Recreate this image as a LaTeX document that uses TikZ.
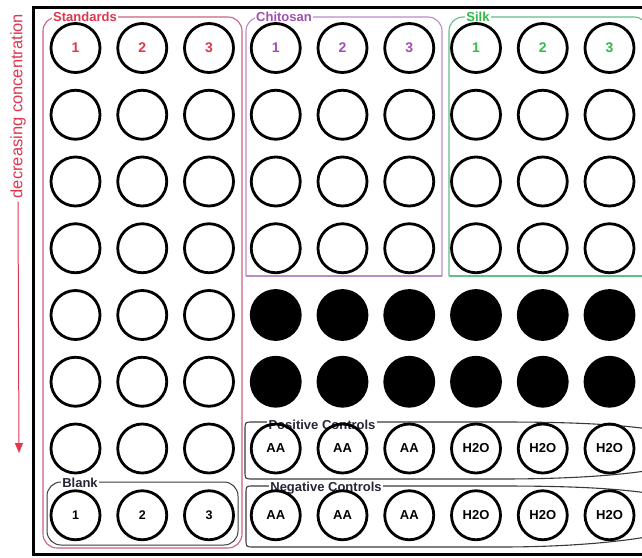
\documentclass[tikz,border=0pt]{standalone}
\usepackage{fontspec}
\setmainfont{Liberation Sans}
\usetikzlibrary{arrows.meta}
\definecolor{stdred}{HTML}{E2354E}
\definecolor{stdline}{HTML}{C9647A}
\definecolor{chitext}{HTML}{A24FB4}
\definecolor{chiline}{HTML}{B88CC8}
\definecolor{silktext}{HTML}{33B84A}
\definecolor{silkline}{HTML}{5FBF88}
\definecolor{ctrltext}{HTML}{262638}
\definecolor{ctrlline}{HTML}{3A3A3A}

\begin{document}
\begin{tikzpicture}[
  x=1pt, y=-1pt,
  well/.style={circle, draw, line width=2.8pt, minimum size=49pt, inner sep=0pt, font=\fontsize{13}{15}\selectfont\bfseries},
  fullwell/.style={well, fill=black},
  grp/.style={line width=1.1pt, rounded corners=14pt},
  ctrlbox/.style={line width=1.1pt, ctrlline},
  tag/.style={fill=white, inner sep=1.5pt, font=\fontsize{13}{15}\selectfont\bfseries},
  arr/.style={-{Triangle[length=10pt, width=8pt]}, line width=1pt, stdred}
]
\useasboundingbox (0,0) rectangle (642,557);
\clip (0,0) rectangle (642,557);

% plate outline
\draw[line width=3pt] (33,7) rectangle (690,554);

% groups
\draw[grp, stdline] (43,17) rectangle (242,548);
\draw[grp, chiline] (246,276) -- (246,17) -- (442,17) -- (442,276);
\draw[chiline, line width=1.1pt] (246,276) -- (442,276);
\draw[grp, silkline] (449,276) -- (449,17) -- (648,17) -- (648,276);
\draw[silkline, line width=1.1pt] (449,276) -- (648,276);
\draw[grp, ctrlline, line width=1pt] (47,482) rectangle (238,545);
\draw[ctrlbox] (253,422) -- (500,422) .. controls (590,422) and (680,425) .. (720,450)
  .. controls (680,473) and (590,479) .. (500,479) -- (253,479)
  .. controls (245,479) .. (245,471) -- (245,430) .. controls (245,422) .. (253,422) -- cycle;
\draw[ctrlbox] (253,486) -- (500,486) .. controls (590,486) and (680,489) .. (720,515)
  .. controls (680,538) and (590,547) .. (500,547) -- (254,547)
  .. controls (246,547) .. (246,539) -- (246,494) .. controls (246,486) .. (253,486) -- cycle;

% group labels
\node[tag, text=stdred] (std) at (85,17) {Standards};
\node[tag, text=chitext] (chi) at (284,17) {Chitosan};
\node[tag, text=silktext] (silk) at (478,17) {Silk};
\node[tag, text=ctrltext] (blank) at (80,483) {Blank};
\node[tag, text=ctrltext] (pos) at (322,425) {Positive Controls};
\node[tag, text=ctrltext] (neg) at (326,488) {Negative Controls};

% wells
\foreach \c/\n/\col in {1/1/stdred,2/2/stdred,3/3/stdred,4/1/chitext,5/2/chitext,6/3/chitext,7/1/silktext,8/2/silktext,9/3/silktext}
  \node[well, text=\col, font=\fontsize{14}{16}\selectfont\bfseries] (w1-\c) at ({8.75+66.75*\c},{-18.75+66.75}) {\n};
\foreach \r in {2,...,7}
  \foreach \c in {1,2,3}
    \node[well] (w\r-\c) at ({8.75+66.75*\c},{-18.75+66.75*\r}) {};
\foreach \c/\n in {1/1,2/2,3/3}
  \node[well, font=\fontsize{12.5}{15}\selectfont\bfseries] (w8-\c) at ({8.75+66.75*\c},{-18.75+66.75*8}) {\n};
\foreach \r in {2,3,4}
  \foreach \c in {4,...,9}
    \node[well] (w\r-\c) at ({8.75+66.75*\c},{-18.75+66.75*\r}) {};
\foreach \r in {5,6}
  \foreach \c in {4,...,9}
    \node[fullwell] (w\r-\c) at ({8.75+66.75*\c},{-18.75+66.75*\r}) {};
\foreach \r in {7,8}
  \foreach \c/\t in {4/AA,5/AA,6/AA,7/H2O,8/H2O,9/H2O}
    \node[well] (w\r-\c) at ({8.75+66.75*\c},{-18.75+66.75*\r}) {\t};

% concentration arrow
\node[rotate=90, text=stdred, font=\fontsize{16.5}{18}\selectfont] (conc) at (18,106) {decreasing concentration};
\coordinate (tip) at (19,453);
\draw[arr] (conc.west) -- (tip);
\end{tikzpicture}
\end{document}
